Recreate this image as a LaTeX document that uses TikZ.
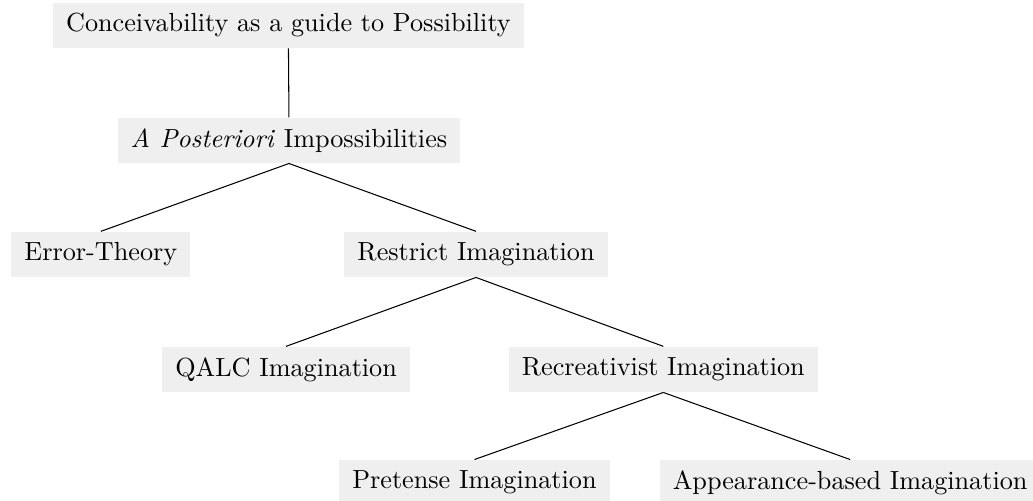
\documentclass[tikz,border=0pt]{standalone}
\usepackage{tikz}
\usepackage{xcolor}
\definecolor{fondo}{HTML}{EFEFEF}

\begin{document}
\begin{tikzpicture}[x=1pt,y=1pt,tema/.style={fill=fondo,inner xsep=5pt,minimum height=17.2pt}]
      \useasboundingbox (0,0) rectangle (394.3,-191.2);
      \node[tema] (root) at (110.1,-9.7) {Conceivability as a guide to Possibility};
      \node[tema] (apost) at (110.3,-53.6) {\textit{A Posteriori} Impossibilities};
      \node[tema] (error) at (38.5,-97.1) {Error-Theory};
      \node[tema] (restrict) at (181.7,-97.1) {Restrict Imagination};
      \node[tema] (qalc) at (109.2,-141.0) {QALC Imagination};
      \node[tema] (recre) at (253.2,-141.0) {Recreativist Imagination};
      \node[tema] (pretense) at (181.1,-184.2) {Pretense Imagination};
      \node[tema] (appear) at (324.5,-184.2) {Appearance-based Imagination};
      \draw (root.south) -- (apost.north);
      \draw (apost.south) -- (error.north);
      \draw (apost.south) -- (restrict.north);
      \draw (restrict.south) -- (qalc.north);
      \draw (restrict.south) -- (recre.north);
      \draw (recre.south) -- (pretense.north);
      \draw (recre.south) -- (appear.north);
    \end{tikzpicture}
\end{document}
